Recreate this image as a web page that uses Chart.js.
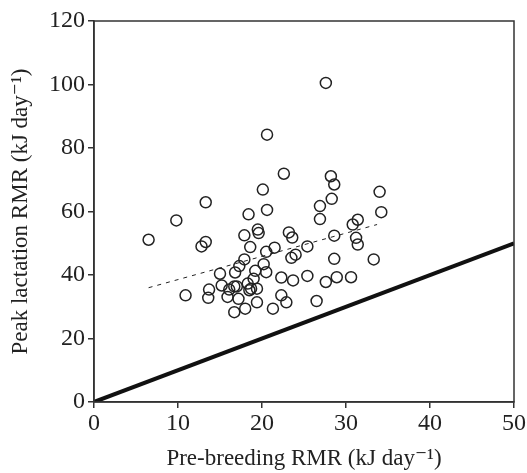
<!DOCTYPE html>
<html>
<head>
<meta charset="utf-8">
<script src="https://cdn.jsdelivr.net/npm/chart.js@4/dist/chart.umd.min.js"></script>
<style>
  html, body { margin: 0; padding: 0; background: #fff; }
  #wrap { width: 527px; height: 473px; }
</style>
</head>
<body>
<div id="wrap"><canvas id="chart"></canvas></div>
<script>
// pre-breeding RMR (x) and peak lactation RMR (y), kJ/day
const preBreeding = [
  6.5, 9.8, 10.9, 13.3, 12.8, 13.3, 13.7, 13.6, 15.0, 15.2,
  15.9, 16.1, 16.7, 16.8, 16.7, 17.0, 17.2, 17.3, 17.9, 17.9,
  18.0, 18.4, 18.6, 18.3, 18.5, 18.7, 19.0, 19.2, 19.4, 19.4,
  19.5, 19.6, 20.1, 20.2, 20.5, 20.5, 20.6, 20.6, 21.3, 21.5,
  22.3, 22.3, 22.6, 22.9, 23.2, 23.6, 23.5, 24.0, 23.7, 25.4,
  25.4, 26.5, 26.9, 26.9, 27.6, 27.6, 28.2, 28.6, 28.3, 28.6,
  28.6, 28.9, 30.6, 30.8, 31.4, 31.2, 31.4, 33.3, 34.0, 34.2
];
const peakLactation = [
  51.1, 57.2, 33.6, 62.9, 49.0, 50.4, 35.4, 32.8, 40.4, 36.7,
  33.1, 35.4, 28.3, 40.8, 36.4, 36.4, 32.5, 42.8, 44.9, 52.5,
  29.4, 59.1, 48.8, 37.3, 35.2, 35.7, 38.8, 41.3, 31.4, 35.7,
  54.3, 53.2, 66.9, 43.4, 40.9, 47.3, 60.5, 84.2, 29.4, 48.6,
  33.6, 39.2, 71.9, 31.4, 53.4, 51.8, 45.4, 46.4, 38.3, 49.0,
  39.7, 31.8, 61.7, 57.6, 100.5, 37.8, 71.1, 68.5, 64.0, 52.4,
  45.1, 39.3, 39.3, 55.9, 57.4, 51.7, 49.6, 44.9, 66.2, 59.8
];

// fitted regression (dashed) and the line of equality (thick)
const trendX = [6.5, 33.7];
const trendY = [36.0, 55.9];
const equalX = [0, 50];
const equalY = [0, 50];

const xTicks = [0, 10, 20, 30, 40, 50];
const yTicks = [0, 20, 40, 60, 80, 100, 120];

const toPoints = (xs, ys) => xs.map((x, i) => ({ x: x, y: ys[i] }));

const ink = '#222';
const serif = "'Liberation Serif', 'DejaVu Serif', serif";

const frame = {
  id: 'frame',
  afterDraw(chart) {
    const { ctx, chartArea: a } = chart;
    ctx.save();
    ctx.strokeStyle = '#333';
    ctx.lineWidth = 1.5;
    ctx.strokeRect(a.left, a.top, a.right - a.left, a.bottom - a.top);
    ctx.restore();
  }
};

new Chart(document.getElementById('chart'), {
  type: 'scatter',
  data: {
    datasets: [
      {
        label: 'Equality',
        data: toPoints(equalX, equalY),
        showLine: true,
        borderColor: '#111',
        borderWidth: 4,
        pointRadius: 0
      },
      {
        label: 'Regression',
        data: toPoints(trendX, trendY),
        showLine: true,
        borderColor: '#222',
        borderWidth: 1,
        borderDash: [4, 5],
        pointRadius: 0
      },
      {
        label: 'Females',
        data: toPoints(preBreeding, peakLactation),
        pointRadius: 5.5,
        pointBorderWidth: 1.5,
        borderColor: '#222',
        backgroundColor: 'rgba(255,255,255,0)'
      }
    ]
  },
  options: {
    responsive: true,
    maintainAspectRatio: false,
    animation: false,
    layout: { padding: { top: 21, right: 13, left: 0, bottom: 0 } },
    plugins: {
      legend: { display: false },
      tooltip: { enabled: false }
    },
    scales: {
      x: {
        type: 'linear',
        min: 0,
        max: 50,
        afterBuildTicks: s => { s.ticks = xTicks.map(v => ({ value: v })); },
        afterFit: s => { s.height = 71; },
        ticks: { color: ink, font: { family: serif, size: 24 }, padding: 1, maxRotation: 0 },
        grid: { drawOnChartArea: false, drawTicks: true, tickLength: 6, color: '#333', lineWidth: 1.5 },
        border: { display: true, color: '#333', width: 1.5 },
        title: {
          display: true,
          text: 'Pre-breeding RMR (kJ day\u207B\u00B9)',
          color: ink,
          font: { family: serif, size: 23 },
          padding: { top: 4, bottom: 0 }
        }
      },
      y: {
        type: 'linear',
        min: 0,
        max: 120,
        afterBuildTicks: s => { s.ticks = yTicks.map(v => ({ value: v })); },
        afterFit: s => { s.width = 94; },
        ticks: { color: ink, font: { family: serif, size: 24 }, padding: 3 },
        grid: { drawOnChartArea: false, drawTicks: true, tickLength: 6, color: '#333', lineWidth: 1.5 },
        border: { display: true, color: '#333', width: 1.5 },
        title: {
          display: true,
          text: 'Peak lactation RMR (kJ day\u207B\u00B9)',
          color: ink,
          font: { family: serif, size: 23 },
          padding: { top: 7, bottom: 0 }
        }
      }
    }
  },
  plugins: [frame]
});
</script>
</body>
</html>
